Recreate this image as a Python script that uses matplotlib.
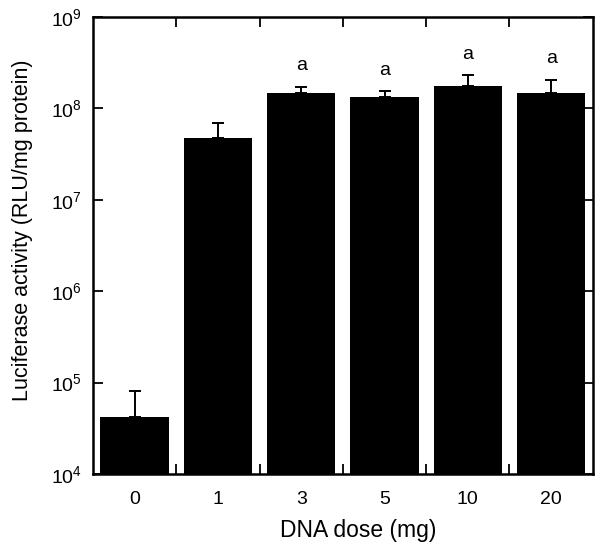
import matplotlib
matplotlib.use("Agg")
import matplotlib.pyplot as plt
import numpy as np
from matplotlib.ticker import LogLocator, NullLocator, FixedLocator

plt.rcParams['font.family'] = ['Liberation Sans', 'DejaVu Sans']
plt.rcParams['mathtext.fontset'] = 'custom'
plt.rcParams['mathtext.rm'] = 'Liberation Sans'
plt.rcParams['mathtext.it'] = 'Liberation Sans'

categories = ["0", "1", "3", "5", "10", "20"]
values = [4.2e4, 4.8e7, 1.49e8, 1.34e8, 1.76e8, 1.49e8]
errors = [3.9e4, 2.1e7, 2.4e7, 2.0e7, 5.4e7, 5.6e7]
letters = ["", "", "a", "a", "a", "a"]

fig = plt.figure(figsize=(6.0, 5.45), dpi=100)
ax = fig.add_axes([0.155, 0.1303, 0.833, 0.8385])

x = np.arange(len(categories))
ax.bar(x, values, width=0.82, color='black', zorder=2)
ax.errorbar(x, values, yerr=[np.zeros(len(values)), errors], fmt='none',
            ecolor='black', elinewidth=1.4, capsize=4, capthick=1.4, zorder=3)

for xi, v, e, t in zip(x, values, errors, letters):
    if t:
        ax.annotate(t, (xi, v + e), xytext=(0, 9), textcoords='offset points',
                    ha='center', va='bottom', fontsize=14)

ax.set_yscale('log')
ax.set_ylim(1e4, 1e9)
ax.set_xlim(-0.5, len(categories) - 0.5)
ax.yaxis.set_major_locator(LogLocator(base=10, numticks=10))
ax.yaxis.set_minor_locator(NullLocator())

ax.set_xticks(x)
ax.set_xticklabels(categories)
ax.xaxis.set_minor_locator(FixedLocator(x[:-1] + 0.5))

ax.tick_params(axis='x', which='major', length=0, labelsize=14, pad=12)
ax.tick_params(axis='x', which='minor', direction='in', length=7, width=1.3, top=True, bottom=True)
ax.tick_params(axis='y', which='major', direction='in', length=7, width=1.3,
               left=True, right=True, labelsize=14, pad=8)

for s in ax.spines.values():
    s.set_linewidth(1.8)

ax.set_xlabel("DNA dose (mg)", fontsize=16.5, labelpad=8)
ax.set_ylabel("Luciferase activity (RLU/mg protein)", fontsize=15.5, labelpad=13)
ax.xaxis.label.set_x(0.531)
ax.yaxis.label.set_y(0.534)

fig.savefig("out.png", dpi=100)
